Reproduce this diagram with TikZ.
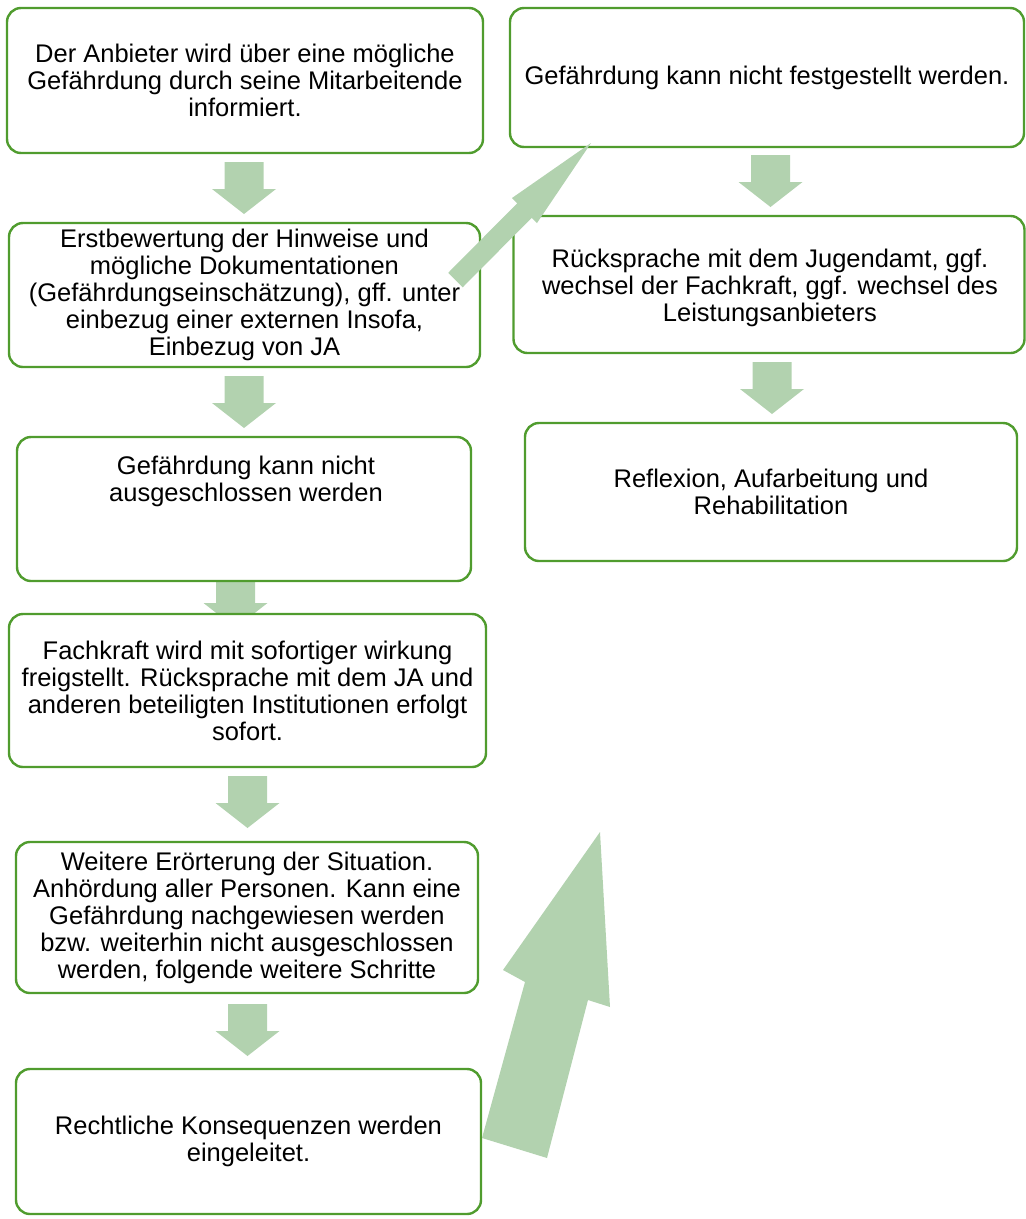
\documentclass[tikz,border=0pt]{standalone}
\usepackage{fontspec}
\setmainfont{Liberation Sans}
\definecolor{boxgreen}{RGB}{80,156,46}
\definecolor{arrgreen}{RGB}{178,210,175}
\tikzset{
  box/.style={draw=boxgreen, line width=2.4pt, rounded corners=14pt, fill=white,
    align=center, inner sep=0pt, font=\fontsize{25.5}{27}\selectfont},
  boxtext/.style={align=center, inner sep=0pt, font=\fontsize{25.5}{27}\selectfont},
  blockarrow/.style={fill=arrgreen, draw=none},
  downarr/.pic={\fill[blockarrow] (-19.5,0) -- (19.5,0) -- (19.5,27) -- (32,27) -- (0,52) -- (-32,27) -- (-19.5,27) -- cycle;}
}
\begin{document}
\begin{tikzpicture}[x=1pt,y=-1pt]
\useasboundingbox (0,0) rectangle (1026,1219);
% arrow hidden behind boxes
\pic at (235.5,576) {downarr};
% left column
\node[box, minimum width=476pt, minimum height=145pt] (b1) at (245,80.5)
  {Der Anbieter wird über eine mögliche\\Gefährdung durch seine Mitarbeitende\\informiert.};
\node[box, minimum width=471pt, minimum height=144pt] (b2) at (244.5,295)
  {Erstbewertung der Hinweise und\\mögliche Dokumentationen\\(Gefährdungseinschätzung), gff. unter\\einbezug einer externen Insofa,\\Einbezug von JA};
\node[box, minimum width=454pt, minimum height=144pt] (b3) at (244,509) {};
\node[boxtext] (b3t) at (246,481) {Gefährdung kann nicht\\ausgeschlossen werden};
\node[box, minimum width=477pt, minimum height=153pt] (b4) at (247.5,690.5)
  {Fachkraft wird mit sofortiger wirkung\\freigstellt. Rücksprache mit dem JA und\\anderen beteiligten Institutionen erfolgt\\sofort.};
\node[box, minimum width=462pt, minimum height=151pt] (b5) at (247,917.5)
  {Weitere Erörterung der Situation.\\Anhördung aller Personen. Kann eine\\Gefährdung nachgewiesen werden\\bzw. weiterhin nicht ausgeschlossen\\werden, folgende weitere Schritte};
\node[box, minimum width=465pt, minimum height=145pt] (b6) at (248.5,1141.5)
  {Rechtliche Konsequenzen werden\\eingeleitet.};
% right column
\node[box, minimum width=514pt, minimum height=139pt] (r1) at (767,77.5)
  {Gefährdung kann nicht festgestellt werden.};
\node[box, minimum width=511pt, minimum height=137pt] (r2) at (769,284.5) {};
\node[boxtext] (r2t) at (770,288) {Rücksprache mit dem Jugendamt, ggf.\\wechsel der Fachkraft, ggf. wechsel des\\Leistungsanbieters};
\node[box, minimum width=492pt, minimum height=138pt] (r3) at (771,492)
  {Reflexion, Aufarbeitung und\\Rehabilitation};
% down arrows
\pic at (244,162) {downarr};
\pic at (244,376) {downarr};
\pic at (247.5,776) {downarr};
\pic at (247.5,1004) {downarr};
\pic at (770.5,155) {downarr};
\pic at (772,362) {downarr};
% diagonal arrow from b2 to r1
\fill[blockarrow] (448.25,272.75) -- (517.25,203.25) -- (512,198) -- (591,143)
  -- (537,223) -- (531.75,217.75) -- (462.75,287.25) -- cycle;
% big arrow
\fill[blockarrow] (482,1138) -- (525,982) -- (503,970) -- (600,832)
  -- (610,1007) -- (588,1000) -- (547,1158) -- cycle;
\end{tikzpicture}
\end{document}
